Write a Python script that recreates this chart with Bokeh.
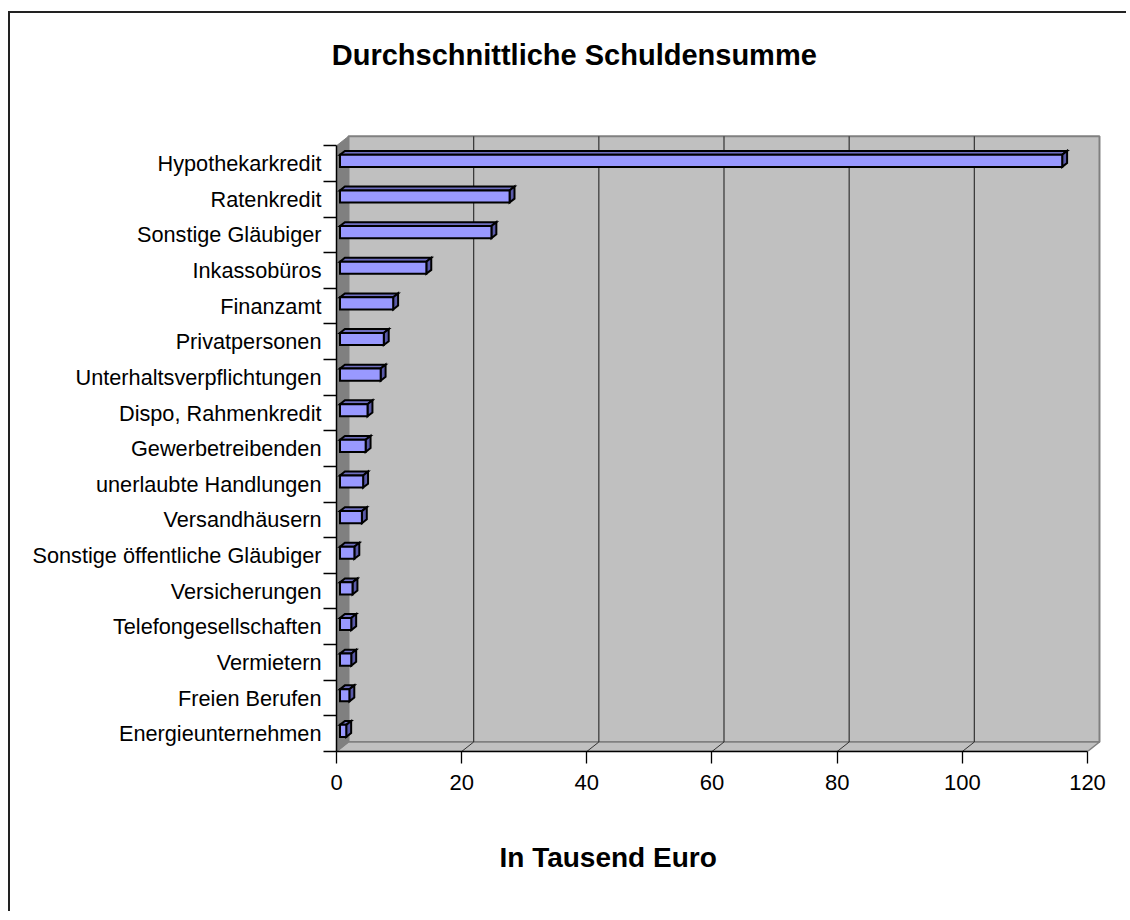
import numpy as np
from bokeh.plotting import figure
from bokeh.models import Range1d, FixedTicker, LinearAxis
from bokeh.embed import file_html
from bokeh.resources import INLINE

# ---------------- data ----------------
categories = ["Hypothekarkredit", "Ratenkredit", "Sonstige Gläubiger", "Inkassobüros",
              "Finanzamt", "Privatpersonen", "Unterhaltsverpflichtungen",
              "Dispo, Rahmenkredit", "Gewerbetreibenden", "unerlaubte Handlungen",
              "Versandhäusern", "Sonstige öffentliche Gläubiger", "Versicherungen",
              "Telefongesellschaften", "Vermietern", "Freien Berufen", "Energieunternehmen"]
values = [115.4, 27.1, 24.2, 13.8, 8.5, 7.0, 6.5, 4.4, 4.1, 3.7, 3.5,
          2.3, 2.0, 1.8, 1.8, 1.5, 1.0]
x_ticks = [0, 20, 40, 60, 80, 100, 120]
title_text = "Durchschnittliche Schuldensumme"
x_title = "In Tausend Euro"

# ---------------- geometry ----------------
FONT = "Liberation Sans"
n = len(categories)
PXX = 6.2583          # px per x unit
PXY = 35.63           # px per category
DX = 12.0 / PXX       # 3D depth offset in x units
DY = 9.5 / PXY        # 3D depth offset in y units
F0, F1 = 0.29, 0.70   # bar front / back depth fractions
H = 0.34              # bar thickness (category units)

W, HT = 1118, 900
FW, FH = 766, 618
ML, MT = 326, 120
x_end = FW / PXX
y_end = -0.5 + FH / PXY

p = figure(width=W, height=HT, output_backend="svg", toolbar_location=None,
           x_range=Range1d(0, x_end), y_range=Range1d(-0.5, y_end),
           min_border_left=ML, min_border_right=W - ML - FW,
           min_border_top=MT, min_border_bottom=HT - MT - FH,
           background_fill_color="white", border_fill_color="white",
           outline_line_color=None,
           styles={"border-left": "2px solid #222222", "border-top": "2px solid #222222",
                   "margin-top": "11px", "margin-left": "8px"})
p.xgrid.visible = False
p.ygrid.visible = False

xmax = x_ticks[-1]
ylo, yhi = -0.5, n - 0.5

# back wall, floor, left wall
p.patch([DX, xmax + DX, xmax + DX, DX], [ylo + DY, ylo + DY, yhi + DY, yhi + DY],
        fill_color="#c0c0c0", line_color="#808080", line_width=2)
p.patch([0, xmax, xmax + DX, DX], [ylo, ylo, ylo + DY, ylo + DY],
        fill_color="#c0c0c0", line_color="#808080", line_width=1.5)
p.patch([0, DX, DX, 0], [ylo, ylo + DY, yhi + DY, yhi],
        fill_color="#808080", line_color="#808080", line_width=1)

# gridlines on back wall and floor
gv = np.array(x_ticks[1:-1], dtype=float)
p.segment(x0=gv + DX, y0=[ylo + DY] * len(gv), x1=gv + DX, y1=[yhi + DY] * len(gv),
          line_color="#333333", line_width=1.2)
p.segment(x0=gv, y0=[ylo] * len(gv), x1=gv + DX, y1=[ylo + DY] * len(gv),
          line_color="#333333", line_width=1)

# bars
vals = np.array(values, dtype=float)
ypos = np.arange(n)[::-1].astype(float)
left = np.full(n, F0 * DX)
right = vals + F0 * DX
bottom = ypos - H / 2 + F0 * DY
top = ypos + H / 2 + F0 * DY
ddx = (F1 - F0) * DX
ddy = (F1 - F0) * DY

top_xs = [[l, r, r + ddx, l + ddx] for l, r in zip(left, right)]
top_ys = [[t, t, t + ddy, t + ddy] for t in top]
side_xs = [[r, r + ddx, r + ddx, r] for r in right]
side_ys = [[b, b + ddy, t + ddy, t] for b, t in zip(bottom, top)]

p.patches(top_xs, top_ys, fill_color="#6f6fc0", line_color="black", line_width=2,
          line_join="miter")
p.patches(side_xs, side_ys, fill_color="#5a5aa8", line_color="black", line_width=2,
          line_join="miter")
p.quad(left=left, right=right, bottom=bottom, top=top, fill_color="#9999ff",
       line_color="black", line_width=2, line_join="miter")

# x axis
xa = p.xaxis[0]
xa.ticker = FixedTicker(ticks=x_ticks)
xa.bounds = (0, xmax)
xa.axis_line_color = "black"
xa.axis_line_width = 1.5
xa.major_tick_out = 12
xa.major_tick_in = 0
xa.major_tick_line_color = "black"
xa.major_tick_line_width = 1.3
xa.minor_tick_out = 0
xa.minor_tick_in = 0
xa.major_label_text_font = FONT
xa.major_label_text_font_size = "22px"
xa.major_label_text_color = "black"
xa.major_label_standoff = 11

# y axis
ya = p.yaxis[0]
ya.ticker = FixedTicker(ticks=list(range(n)), minor_ticks=[i - 0.5 for i in range(n + 1)])
ya.major_label_overrides = {int(yv): name for yv, name in zip(ypos, categories)}
ya.bounds = (ylo, yhi)
ya.axis_line_color = "black"
ya.axis_line_width = 1.5
ya.major_tick_out = 0
ya.major_tick_in = 0
ya.minor_tick_out = 13
ya.minor_tick_in = 0
ya.minor_tick_line_color = "black"
ya.minor_tick_line_width = 1.3
ya.major_label_text_font = FONT
ya.major_label_text_font_size = "21.7px"
ya.major_label_text_color = "black"
ya.major_label_standoff = 2


def text_axis(text, xc, size, standoff):
    ax = LinearAxis(ticker=FixedTicker(ticks=[xc], minor_ticks=[]),
                    major_label_overrides={xc: text})
    ax.axis_line_color = None
    ax.major_tick_line_color = None
    ax.minor_tick_line_color = None
    ax.major_tick_out = 0
    ax.major_tick_in = 0
    ax.minor_tick_out = 0
    ax.minor_tick_in = 0
    ax.major_label_text_font = FONT
    ax.major_label_text_font_size = size
    ax.major_label_text_font_style = "bold"
    ax.major_label_text_color = "black"
    ax.major_label_standoff = standoff
    return ax


# chart title (centred at x = 38 units) and x-axis title (centred at 43.4 units)
p.add_layout(text_axis(title_text, 38.0, "29px", 63), "above")
p.add_layout(text_axis(x_title, 43.4, "28px", 49), "below")

open("out.html", "w").write(file_html(p, INLINE))
